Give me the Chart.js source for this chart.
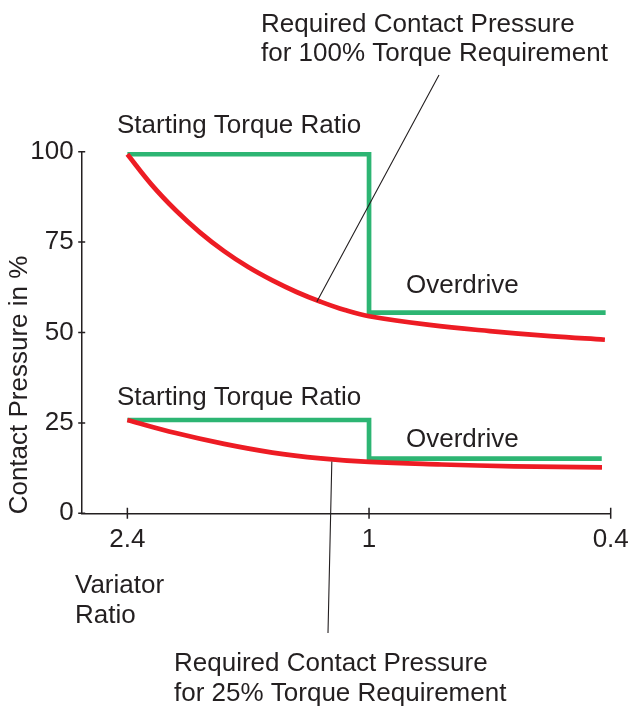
<!DOCTYPE html>
<html>
<head>
<meta charset="utf-8">
<script src="https://cdn.jsdelivr.net/npm/chart.js@4.4.1/dist/chart.umd.min.js"></script>
<style>
  html, body { margin: 0; padding: 0; background: #fff; }
  #wrap { width: 630px; height: 706px; }
</style>
</head>
<body>
<div id="wrap"><canvas id="myChart"></canvas></div>
<script>
// variator ratio axis: positions 0, 1, 2 carry the labels 2.4, 1, 0.4
const ratioTicks = ['2.4', '1', '0.4'];
const yTicks = [0, 25, 50, 75, 100];

// required contact pressure, 100% torque (red, upper)
const upperPos = [0, 0.1, 0.2, 0.3, 0.4, 0.5, 0.6, 0.7, 0.8, 0.9, 1.0, 1.25, 1.5, 1.75, 1.976];
const upper100 = [99.3, 90.9, 83.8, 77.7, 72.5, 68.1, 64.4, 61.2, 58.5, 56.2, 54.5, 52.1, 50.4, 49.0, 48.0];

// required contact pressure, 25% torque (red, lower)
const lowerPos = [0, 0.2, 0.4, 0.6, 0.8, 1.0, 1.3, 1.6, 1.964];
const lower25 = [25.8, 22.2, 19.2, 16.8, 15.2, 14.2, 13.5, 13.0, 12.7];

// applied pressure, starting torque ratio -> overdrive (green steps)
const stepPos100 = [0, 1, 1, 1.979];
const step100 = [99.3, 99.3, 55.5, 55.5];
const stepPos25 = [0, 1, 1, 1.963];
const step25 = [25.8, 25.8, 15.1, 15.1];

const ink = '#231f20';
const red = '#ed1c24';
const green = '#2db573';
const fontFamily = '"Liberation Sans", Arial, sans-serif';

const pts = (xs, ys) => xs.map((v, i) => ({ x: v, y: ys[i] }));

const notes = [
  ['Required Contact Pressure', 261, 32],
  ['for 100% Torque Requirement', 261, 61],
  ['Starting Torque Ratio', 117, 133],
  ['Overdrive', 406, 293],
  ['Starting Torque Ratio', 117, 405],
  ['Overdrive', 406, 447],
  ['Variator', 75, 593],
  ['Ratio', 75, 623],
  ['Required Contact Pressure', 174, 671],
  ['for 25% Torque Requirement', 174, 701]
];

const overlay = {
  id: 'overlay',
  afterDraw(chart) {
    const { ctx, scales: { x, y } } = chart;
    ctx.save();
    ctx.strokeStyle = ink;
    ctx.lineWidth = 1.5;
    // tick marks crossing the axes
    ctx.beginPath();
    yTicks.forEach(v => {
      const py = y.getPixelForValue(v);
      ctx.moveTo(x.left - 3.5, py); ctx.lineTo(x.left + 3.5, py);
    });
    ratioTicks.forEach((t, i) => {
      const px = x.getPixelForValue(i);
      ctx.moveTo(px, y.bottom - 5.5); ctx.lineTo(px, y.bottom + 5.5);
    });
    ctx.stroke();

    // leader lines
    ctx.lineWidth = 1.1;
    ctx.beginPath();
    ctx.moveTo(x.getPixelForValue(0.784), y.getPixelForValue(58.5));
    ctx.lineTo(439, 75);
    ctx.moveTo(x.getPixelForValue(0.846), y.getPixelForValue(14.3));
    ctx.lineTo(328, 633);
    ctx.stroke();

    // texts
    ctx.fillStyle = ink;
    ctx.font = '26px ' + fontFamily;
    ctx.textAlign = 'left';
    ctx.textBaseline = 'alphabetic';
    notes.forEach(([t, tx, ty]) => ctx.fillText(t, tx, ty));

    ctx.translate(27, 385);
    ctx.rotate(-Math.PI / 2);
    ctx.textAlign = 'center';
    ctx.fillText('Contact Pressure in %', 0, 0);
    ctx.restore();
  }
};

new Chart(document.getElementById('myChart'), {
  type: 'line',
  data: {
    datasets: [
      { data: pts(upperPos, upper100), borderColor: red, borderWidth: 4.7, tension: 0.4 },
      { data: pts(lowerPos, lower25), borderColor: red, borderWidth: 4.7, tension: 0.4 },
      { data: pts(stepPos100, step100), borderColor: green, borderWidth: 4.7, tension: 0, borderJoinStyle: 'miter' },
      { data: pts(stepPos25, step25), borderColor: green, borderWidth: 4.7, tension: 0, borderJoinStyle: 'miter' }
    ]
  },
  options: {
    responsive: true,
    maintainAspectRatio: false,
    animation: false,
    events: [],
    elements: { point: { radius: 0 } },
    layout: { padding: { top: 151.7, right: 19.3, bottom: 0, left: 0 } },
    plugins: { legend: { display: false }, tooltip: { enabled: false } },
    scales: {
      x: {
        type: 'linear',
        min: -0.189,
        max: 2,
        grid: { display: false, drawTicks: false },
        border: { display: true, color: ink, width: 1.5 },
        afterBuildTicks: s => { s.ticks = ratioTicks.map((t, i) => ({ value: i })); },
        afterFit: s => { s.height = 192.7; s.paddingLeft = 0; s.paddingRight = 0; },
        ticks: {
          color: ink,
          padding: 11,
          maxRotation: 0,
          font: { family: fontFamily, size: 26 },
          callback: v => ratioTicks[v]
        }
      },
      y: {
        min: 0,
        max: 100,
        grid: { display: false, drawTicks: false },
        border: { display: true, color: ink, width: 1.5 },
        afterBuildTicks: s => { s.ticks = yTicks.map(v => ({ value: v })); },
        afterFit: s => { s.width = 81.7; },
        ticks: {
          color: ink,
          padding: 8,
          font: { family: fontFamily, size: 26 }
        }
      }
    }
  },
  plugins: [overlay]
});
</script>
</body>
</html>
